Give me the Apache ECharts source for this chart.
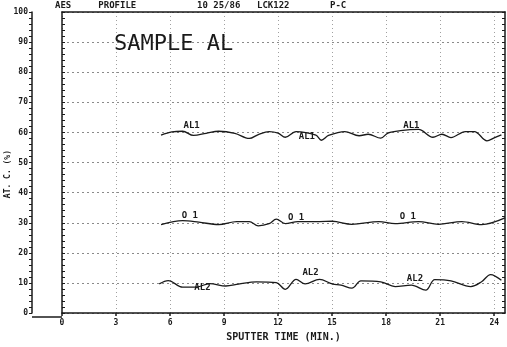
<!DOCTYPE html>
<html>
<head>
<meta charset="utf-8">
<script src="https://cdn.jsdelivr.net/npm/echarts@6/dist/echarts.min.js"></script>
<style>
  html, body { margin: 0; background: #fff; }
  #chart { width: 507px; height: 347px; }
</style>
</head>
<body>
<div id="chart"></div>
<script>
// ── data ───────────────────────────────────────────────────────────────
const xTicks = [0, 3, 6, 9, 12, 15, 18, 21, 24];

const al1Time   = [5.5, 6.1, 6.7, 7.3, 8.0, 8.7, 9.6, 10.4, 10.9, 11.5, 12.0, 12.4, 13.0, 14.1, 14.4, 14.8, 15.7, 16.5, 17.0, 17.7, 18.1, 18.8, 19.8, 20.6, 21.1, 21.6, 22.4, 22.9, 23.6, 24.0, 24.4];
const al1Values = [59.1, 60.2, 60.4, 59.0, 59.7, 60.4, 59.7, 58.0, 59.3, 60.3, 59.8, 58.4, 60.3, 59.1, 57.4, 59.0, 60.3, 58.9, 59.4, 58.1, 59.8, 60.6, 61.0, 58.4, 59.4, 58.3, 60.3, 60.3, 57.2, 58.2, 59.2];

const o1Time   = [5.5, 6.7, 7.6, 8.7, 9.7, 10.4, 10.9, 11.5, 11.9, 12.4, 13.1, 14.3, 15.0, 16.1, 17.6, 18.5, 19.8, 20.9, 22.2, 23.3, 24.6];
const o1Values = [29.4, 30.7, 30.2, 29.4, 30.4, 30.4, 29.0, 29.7, 31.2, 29.7, 30.4, 30.4, 30.5, 29.5, 30.4, 29.7, 30.4, 29.5, 30.4, 29.4, 31.6];

const al2Time   = [5.4, 5.9, 6.7, 7.5, 8.2, 9.1, 9.8, 10.8, 11.9, 12.4, 13.0, 13.5, 14.3, 15.0, 15.5, 16.1, 16.6, 17.7, 18.5, 19.4, 20.2, 20.7, 21.6, 22.7, 23.3, 23.8, 24.4];
const al2Values = [9.7, 10.8, 8.6, 8.7, 9.8, 9.0, 9.6, 10.4, 10.1, 7.9, 11.2, 9.7, 11.2, 9.7, 9.3, 8.3, 10.7, 10.4, 8.8, 9.3, 7.6, 11.1, 10.7, 8.8, 10.4, 12.8, 10.9];

// curve tags written along each trace: [time, value]
const al1Tags = [[7.2, 62.3], [13.6, 58.5], [19.4, 62.3]];
const o1Tags  = [[7.1, 32.5], [13.0, 31.8], [19.2, 32.0]];
const al2Tags = [[7.8, 8.6], [13.8, 13.4], [19.6, 11.3]];

// ── styling ─────────────────────────────────────────────────────────────
const INK = '#1a1a1a';
const MONO = '"DejaVu Sans Mono", "Liberation Mono", monospace';

function pairs(t, v) { return t.map((x, i) => [x, v[i]]); }

function traceSeries(name, t, v, tags) {
  return {
    name, type: 'line', yAxisIndex: 0,
    data: pairs(t, v),
    smooth: 0.35, symbol: 'none',
    lineStyle: { color: INK, width: 1.3 },
    markPoint: {
      symbol: 'circle', symbolSize: 0,
      label: { show: true, formatter: name, color: INK, fontFamily: MONO, fontSize: 9, fontWeight: 'bold' },
      data: tags.map(c => ({ coord: c }))
    },
    silent: true
  };
}

// y axis factory: inner / outer / right frame axes share the same scale
function frameAxis(extra) {
  return Object.assign({
    type: 'value', min: 0, max: 100, interval: 10,
    axisLine: { show: true, onZero: false, lineStyle: { color: INK, width: 1.5 } },
    axisTick: { show: true, length: 3, lineStyle: { color: INK } },
    minorTick: { show: true, splitNumber: 5, length: 3, lineStyle: { color: INK } },
    axisLabel: { show: false },
    splitLine: { show: false }
  }, extra);
}

const chart = echarts.init(document.getElementById('chart'), null, { renderer: 'canvas' });

chart.setOption({
  backgroundColor: '#fff',
  animation: false,
  grid: { left: 62, right: 2, top: 12, bottom: 30, containLabel: false },
  title: {
    text: 'SAMPLE AL', left: 109, top: 28,
    textStyle: { fontFamily: MONO, fontSize: 22, fontWeight: 'normal', color: INK }
  },
  graphic: [
    { type: 'text', left: 55, top: 1, style: { text: 'AES     PROFILE', font: 'bold 9px ' + MONO, fill: INK } },
    { type: 'text', left: 197, top: 1, style: { text: '10 25/86', font: 'bold 9px ' + MONO, fill: INK } },
    { type: 'text', left: 257, top: 1, style: { text: 'LCK122', font: 'bold 9px ' + MONO, fill: INK } },
    { type: 'text', left: 330, top: 1, style: { text: 'P-C', font: 'bold 9px ' + MONO, fill: INK } },
    { type: 'text', left: 4, top: 150, rotation: Math.PI / 2,
      style: { text: 'AT. C. (%)', font: 'bold 8px ' + MONO, fill: INK } },
    // base line runs on under the outer scale
    { type: 'line', shape: { x1: 32, y1: 317, x2: 62, y2: 317 }, style: { stroke: INK, lineWidth: 1.5 } }
  ],
  xAxis: [
    {
      type: 'value', position: 'bottom', min: 0, max: 24.6, interval: 3,
      name: 'SPUTTER TIME (MIN.)', nameLocation: 'middle', nameGap: 17,
      nameTextStyle: { fontFamily: MONO, fontSize: 10, fontWeight: 'bold', color: INK },
      axisLine: { show: true, onZero: false, lineStyle: { color: INK, width: 1.5 } },
      axisTick: { show: true, customValues: xTicks, length: 3, lineStyle: { color: INK, width: 1.5 } },
      axisLabel: { customValues: xTicks, fontFamily: MONO, fontSize: 8, fontWeight: 'bold', color: INK, margin: 6 },
      splitLine: { show: true, lineStyle: { color: '#a0a0a0', type: [1, 3], width: 1 } }
    },
    {
      type: 'value', position: 'top', min: 0, max: 24.6,
      axisLine: { show: true, onZero: false, lineStyle: { color: INK, width: 1.5 } },
      axisTick: { show: false }, axisLabel: { show: false }, splitLine: { show: false }
    }
  ],
  yAxis: [
    frameAxis({
      position: 'left',
      axisTick: { show: true, inside: true, length: 3, lineStyle: { color: INK } },
      splitLine: { show: true, lineStyle: { color: '#8a8a8a', type: [2, 3], width: 1 } }
    }),
    frameAxis({
      position: 'left', offset: 30,
      axisLabel: { show: true, fontFamily: MONO, fontSize: 8, fontWeight: 'bold', color: INK, margin: 4 }
    }),
    frameAxis({
      position: 'right',
      axisTick: { show: true, inside: true, length: 3, lineStyle: { color: INK } },
      minorTick: { show: true, splitNumber: 5, length: 3, lineStyle: { color: INK } }
    })
  ],
  series: [
    traceSeries('AL1', al1Time, al1Values, al1Tags),
    traceSeries('O 1', o1Time, o1Values, o1Tags),
    traceSeries('AL2', al2Time, al2Values, al2Tags)
  ]
});
</script>
</body>
</html>
